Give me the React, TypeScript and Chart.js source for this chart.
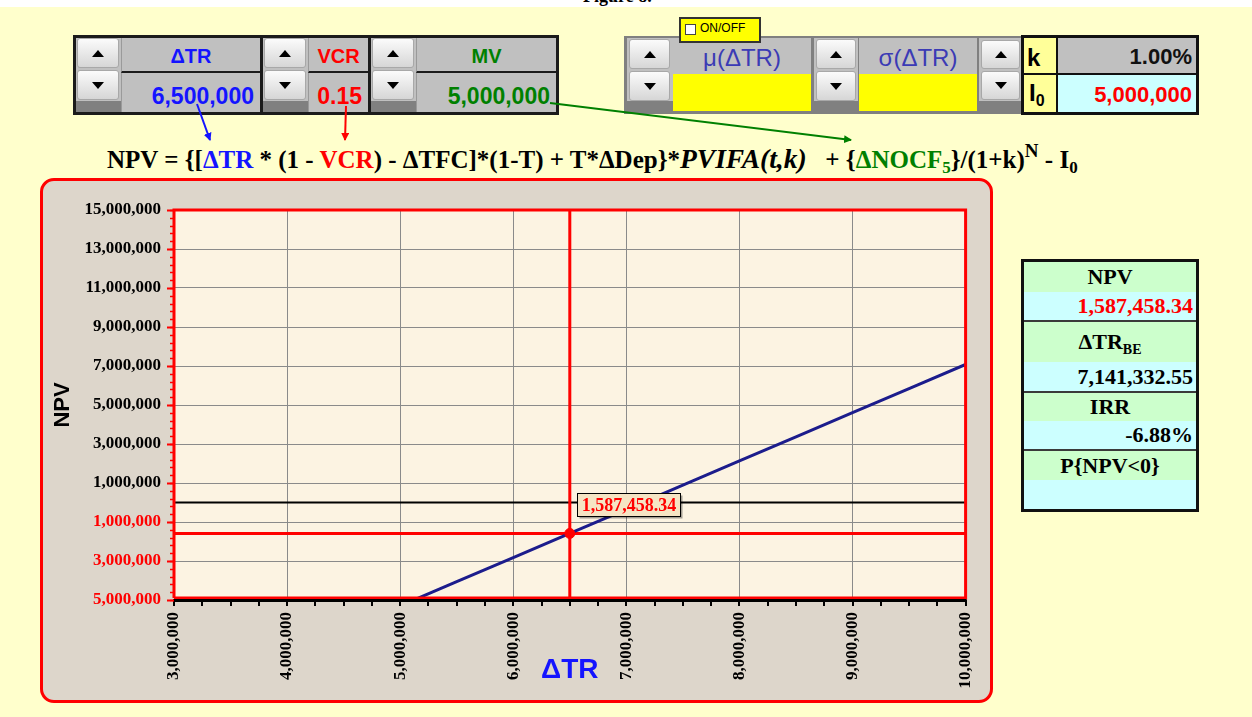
import React, { useEffect, useRef } from "react";
import { Chart, registerables } from "chart.js";

Chart.register(...registerables);

// ---------- data ----------
const deltaTR = [3000000, 3500000, 4000000, 4500000, 5000000, 5500000, 6000000, 6500000, 7000000, 7500000, 8000000, 8500000, 9000000, 9500000, 10000000];
const npvValues = [-10250000, -9010000, -7780000, -6540000, -5300000, -4060000, -2830000, -1587458.34, -350000, 890000, 2130000, 3370000, 4610000, 5840000, 7080000];

const currentTR = 6500000;
const currentNPV = -1587458.34;

const xMin = 3000000;
const xMax = 10000000;
const xStep = 1000000;
const xMinorStep = 250000;
const yMin = -5000000;
const yMax = 15000000;
const yStep = 2000000;
const yMinorStep = 400000;

const inputVCR = "0.15";
const inputMV = 5000000;
const inputK = "1.00%";
const inputI0 = 5000000;
const breakEvenTR = "7,141,332.55";
const irrText = "-6.88%";

// ---------- helpers ----------
function fmt(v: number, dec = 0): string {
  const s = Math.abs(v).toFixed(dec);
  const parts = s.split(".");
  const i = parts[0].replace(/\B(?=(\d{3})+(?!\d))/g, ",");
  return parts[1] ? i + "." + parts[1] : i;
}

const SERIF = "'Liberation Serif', 'Times New Roman', serif";
const SANS = "'Liberation Sans', Arial, sans-serif";

const decorPlugin = {
  id: "decor",
  beforeDraw(chart: any) {
    const { ctx, chartArea: a } = chart;
    ctx.save();
    ctx.fillStyle = "#FCF3E2";
    ctx.fillRect(a.left, a.top, a.right - a.left, a.bottom - a.top);
    ctx.restore();
  },
  afterDatasetsDraw(chart: any) {
    const { ctx, chartArea: a, scales } = chart;
    const xs = scales.x;
    const ys = scales.y;
    ctx.save();
    // red frame
    ctx.strokeStyle = "#FF0000";
    ctx.lineWidth = 3;
    ctx.beginPath();
    ctx.moveTo(a.left, a.bottom - 2);
    ctx.lineTo(a.left, a.top);
    ctx.lineTo(a.right, a.top);
    ctx.lineTo(a.right, a.bottom - 2);
    ctx.lineTo(a.left, a.bottom - 2);
    ctx.stroke();
    // black x axis line
    ctx.strokeStyle = "#000000";
    ctx.lineWidth = 3;
    ctx.beginPath();
    ctx.moveTo(a.left - 1, a.bottom + 0.5);
    ctx.lineTo(a.right + 1, a.bottom + 0.5);
    ctx.stroke();
    // x ticks (major + minor)
    ctx.lineWidth = 2;
    for (let v = xMin; v <= xMax + 1; v += xMinorStep) {
      const px = Math.round(xs.getPixelForValue(v));
      ctx.beginPath();
      ctx.moveTo(px, a.bottom);
      ctx.lineTo(px, a.bottom + 6);
      ctx.stroke();
    }
    // y minor ticks
    ctx.strokeStyle = "#FF0000";
    ctx.lineWidth = 1.5;
    for (let v = yMin; v <= yMax + 1; v += yMinorStep) {
      const py = Math.round(ys.getPixelForValue(v)) + 0.5;
      ctx.beginPath();
      ctx.moveTo(a.left - 4, py);
      ctx.lineTo(a.left, py);
      ctx.stroke();
    }
    // y major ticks
    ctx.lineWidth = 2;
    for (let v = yMin; v <= yMax + 1; v += yStep) {
      const py = Math.round(ys.getPixelForValue(v)) + 0.5;
      ctx.beginPath();
      ctx.moveTo(a.left - 7, py);
      ctx.lineTo(a.left, py);
      ctx.stroke();
    }
    // point label
    const px = xs.getPixelForValue(currentTR);
    const py = ys.getPixelForValue(currentNPV);
    const text = fmt(currentNPV, 2);
    ctx.font = `bold 18px ${SERIF}`;
    const tw = ctx.measureText(text).width;
    const bx = Math.round(px + 7) + 0.5;
    const by = Math.round(py - 40) + 0.5;
    const bw = Math.round(tw + 8);
    const bh = 23;
    ctx.fillStyle = "rgba(0,0,0,0.35)";
    ctx.fillRect(bx + 2, by + 2, bw, bh);
    ctx.fillStyle = "#F5E4C4";
    ctx.fillRect(bx, by, bw, bh);
    ctx.strokeStyle = "#000000";
    ctx.lineWidth = 1;
    ctx.strokeRect(bx, by, bw, bh);
    ctx.fillStyle = "#FF0000";
    ctx.textAlign = "center";
    ctx.textBaseline = "middle";
    ctx.fillText(text, bx + bw / 2, by + bh / 2 + 1);
    ctx.restore();
  },
};

function NPVChart() {
  const ref = useRef<HTMLCanvasElement | null>(null);
  useEffect(() => {
    if (!ref.current) return;
    const xMajor: number[] = [];
    for (let v = xMin; v <= xMax; v += xStep) xMajor.push(v);
    const chart = new Chart(ref.current, {
      type: "scatter",
      data: {
        datasets: [
          {
            label: "current",
            data: [{ x: currentTR, y: currentNPV }],
            pointRadius: 5,
            pointBackgroundColor: "#FF0000",
            pointBorderColor: "#FF0000",
            showLine: false,
          },
          {
            label: "NPV",
            data: deltaTR.map((x, i) => ({ x, y: npvValues[i] })),
            showLine: true,
            borderColor: "#1C1C8C",
            borderWidth: 3,
            pointRadius: 0,
            tension: 0,
          },
          {
            label: "ΔTR",
            data: [{ x: currentTR, y: yMin }, { x: currentTR, y: yMax }],
            showLine: true,
            borderColor: "#FF0000",
            borderWidth: 3,
            pointRadius: 0,
          },
          {
            label: "NPV level",
            data: [{ x: xMin, y: currentNPV }, { x: xMax, y: currentNPV }],
            showLine: true,
            borderColor: "#FF0000",
            borderWidth: 3,
            pointRadius: 0,
          },
          {
            label: "zero",
            data: [{ x: xMin, y: 0 }, { x: xMax, y: 0 }],
            showLine: true,
            borderColor: "#000000",
            borderWidth: 2,
            pointRadius: 0,
          },
        ],
      } as any,
      options: {
        animation: false,
        responsive: false,
        maintainAspectRatio: false,
        events: [],
        layout: { padding: { left: 0, right: 24, top: 29, bottom: 0 } },
        plugins: { legend: { display: false }, tooltip: { enabled: false } },
        scales: {
          x: {
            type: "linear",
            min: xMin,
            max: xMax,
            afterFit: (s: any) => {
              s.height = 100;
            },
            afterBuildTicks: (s: any) => {
              s.ticks = xMajor.map((v) => ({ value: v }));
            },
            ticks: {
              autoSkip: false,
              minRotation: 90,
              maxRotation: 90,
              padding: 4,
              color: "#000000",
              font: { family: SERIF, size: 17, weight: "bold" },
              callback: (v: any) => fmt(Number(v)),
            },
            grid: { color: "#8A8A8A", lineWidth: 1, drawTicks: true, tickLength: 8, tickColor: "rgba(0,0,0,0)" },
            border: { display: false },
            title: {
              display: true,
              text: "ΔTR",
              color: "#1414FF",
              font: { family: SANS, size: 28, weight: "bold" },
              padding: { top: 0, bottom: 13 },
            },
          },
          y: {
            type: "linear",
            min: yMin,
            max: yMax,
            afterFit: (s: any) => {
              s.width = 131;
            },
            ticks: {
              stepSize: yStep,
              padding: 6,
              color: (c: any) => (c.tick && c.tick.value < 0 ? "#FF0000" : "#000000"),
              font: { family: SERIF, size: 17, weight: "bold" },
              callback: (v: any) => fmt(Number(v)),
            },
            grid: { color: "#8A8A8A", lineWidth: 1, drawTicks: true, tickLength: 7, tickColor: "rgba(0,0,0,0)" },
            border: { display: false },
            title: {
              display: true,
              text: "NPV",
              color: "#000000",
              font: { family: SANS, size: 22, weight: "bold" },
              padding: { top: 7, bottom: 0 },
            },
          },
        },
      } as any,
      plugins: [decorPlugin],
    });
    return () => chart.destroy();
  }, []);
  return <canvas ref={ref} width={947} height={519} style={{ position: "absolute", left: 0, top: 0, width: 947, height: 519 }} />;
}

function SpinBtn({ left, top, w, h, up }: { left: number; top: number; w: number; h: number; up?: boolean }) {
  return (
    <div
      style={{
        position: "absolute",
        left,
        top,
        width: w,
        height: h,
        boxSizing: "border-box",
        border: "1px solid #A8A8A8",
        borderRadius: 3,
        background: "linear-gradient(#FBFBFB, #D6D6D6)",
        display: "flex",
        alignItems: "center",
        justifyContent: "center",
      }}
    >
      <div
        style={
          up
            ? { width: 0, height: 0, borderLeft: "6px solid transparent", borderRight: "6px solid transparent", borderBottom: "7px solid #000" }
            : { width: 0, height: 0, borderLeft: "6px solid transparent", borderRight: "6px solid transparent", borderTop: "7px solid #000" }
        }
      />
    </div>
  );
}

function Group({ left, width, label, value, color }: { left: number; width: number; label: string; value: string; color: string }) {
  const spinW = 45;
  return (
    <div style={{ position: "absolute", left, top: 35, width, height: 80, boxSizing: "border-box", border: "3px solid #1B1B1B", background: "#808080" }}>
      <div style={{ position: "absolute", left: 0, top: 0, width: spinW, height: 63, background: "#C0C0C0" }} />
      <SpinBtn left={1} top={0} w={spinW - 3} h={30} up />
      <SpinBtn left={1} top={32} w={spinW - 3} h={30} />
      <div
        style={{
          position: "absolute",
          left: spinW,
          top: 0,
          right: 0,
          height: 35,
          boxSizing: "border-box",
          background: "#C0C0C0",
          borderBottom: "2px solid #1B1B1B",
          borderLeft: "1px solid #9A9A9A",
          color,
          font: `bold 20px ${SANS}`,
          textAlign: "center",
          lineHeight: "37px",
        }}
      >
        {label}
      </div>
      <div
        style={{
          position: "absolute",
          left: spinW,
          top: 35,
          right: 0,
          bottom: 0,
          boxSizing: "border-box",
          background: "#C0C0C0",
          borderLeft: "1px solid #9A9A9A",
          color,
          font: `bold 23px ${SANS}`,
          textAlign: "right",
          paddingRight: 6,
          lineHeight: "47px",
          overflow: "hidden",
        }}
      >
        {value}
      </div>
    </div>
  );
}

function ResultRow({ top, h, bg, children, align, color, border }: any) {
  return (
    <div
      style={{
        position: "absolute",
        left: 0,
        right: 0,
        top,
        height: h,
        boxSizing: "border-box",
        background: bg,
        borderBottom: border ? "2px solid #3A3A3A" : "none",
        textAlign: align,
        paddingRight: align === "right" ? 3 : 0,
        font: `bold 22px ${SERIF}`,
        lineHeight: `${h - (border ? 2 : 0)}px`,
        color: color || "#000",
        whiteSpace: "nowrap",
      }}
    >
      {children}
    </div>
  );
}

export default function App() {
  const blue = "#1414FF";
  const red = "#FF0000";
  const green = "#008000";
  const subStyle = { fontSize: 17, verticalAlign: -5, lineHeight: 0 } as const;
  return (
    <div style={{ position: "fixed", left: 0, top: 0, width: 1252, height: 717, background: "#FFFFCC", overflow: "hidden", fontFamily: SANS }}>
      {/* top white strip with cut caption */}
      <div style={{ position: "absolute", left: 0, top: 0, width: 1252, height: 7, background: "#FFFFFF", overflow: "hidden" }}>
        <div style={{ position: "absolute", left: 583, top: -14, font: `bold 18px ${SERIF}`, color: "#000" }}>Figure 8.</div>
      </div>

      {/* left control panel */}
      <Group left={73} width={190} label="ΔTR" value={fmt(currentTR)} color={blue} />
      <Group left={260} width={111} label="VCR" value={inputVCR} color={red} />
      <Group left={368} width={191} label="MV" value={fmt(inputMV)} color={green} />

      {/* right control panel */}
      <div style={{ position: "absolute", left: 624, top: 36, width: 399, height: 78, background: "#808080" }}>
        <div style={{ position: "absolute", left: 3, top: 2, width: 46, height: 63, background: "#C0C0C0" }} />
        <SpinBtn left={5} top={3} w={41} h={30} up />
        <SpinBtn left={5} top={35} w={41} h={30} />
        <div style={{ position: "absolute", left: 49, top: 2, width: 138, height: 36, background: "#C0C0C0", color: "#3B3BB5", font: `24px ${SANS}`, textAlign: "center", lineHeight: "40px" }}>μ(ΔTR)</div>
        <div style={{ position: "absolute", left: 49, top: 38, width: 138, height: 37, background: "#FFFF00" }} />
        <div style={{ position: "absolute", left: 190, top: 2, width: 44, height: 63, background: "#C0C0C0" }} />
        <SpinBtn left={192} top={3} w={40} h={30} up />
        <SpinBtn left={192} top={35} w={40} h={30} />
        <div style={{ position: "absolute", left: 235, top: 2, width: 118, height: 36, background: "#C0C0C0", color: "#3B3BB5", font: `24px ${SANS}`, textAlign: "center", lineHeight: "40px" }}>σ(ΔTR)</div>
        <div style={{ position: "absolute", left: 235, top: 38, width: 118, height: 37, background: "#FFFF00" }} />
        <div style={{ position: "absolute", left: 355, top: 2, width: 43, height: 63, background: "#C0C0C0" }} />
        <SpinBtn left={357} top={4} w={39} h={29} up />
        <SpinBtn left={357} top={35} w={39} h={29} />
      </div>

      {/* ON/OFF checkbox */}
      <div style={{ position: "absolute", left: 679, top: 17, width: 82, height: 26, boxSizing: "border-box", background: "#FFFF00", border: "2px solid #333" }}>
        <div style={{ position: "absolute", left: 4, top: 5, width: 11, height: 11, boxSizing: "border-box", background: "#FFF", border: "1px solid #444" }} />
        <div style={{ position: "absolute", left: 19, top: 2, font: `12px ${SANS}`, color: "#000" }}>ON/OFF</div>
      </div>

      {/* k / I0 table */}
      <div style={{ position: "absolute", left: 1021, top: 35, width: 178, height: 80, boxSizing: "border-box", border: "3px solid #111", background: "#111" }}>
        <div style={{ position: "absolute", left: 0, top: 0, width: 32, height: 35, background: "#FFFF99", font: `bold 24px ${SANS}`, lineHeight: "40px", paddingLeft: 3, boxSizing: "border-box" }}>k</div>
        <div style={{ position: "absolute", left: 34, top: 0, right: 0, height: 35, background: "#C0C0C0", font: `bold 22px ${SANS}`, textAlign: "right", paddingRight: 4, boxSizing: "border-box", lineHeight: "38px", color: "#111" }}>{inputK}</div>
        <div style={{ position: "absolute", left: 0, top: 37, width: 32, bottom: 0, background: "#FFFF99", font: `bold 24px ${SANS}`, lineHeight: "36px", paddingLeft: 5, boxSizing: "border-box" }}>
          I<sub style={{ fontSize: 16, verticalAlign: -5, lineHeight: 0 }}>0</sub>
        </div>
        <div style={{ position: "absolute", left: 34, top: 37, right: 0, bottom: 0, background: "#CCFFFF", font: `bold 22px ${SANS}`, textAlign: "right", paddingRight: 4, boxSizing: "border-box", lineHeight: "40px", color: red }}>{fmt(inputI0)}</div>
      </div>

      {/* arrows */}
      <svg width={1252} height={717} style={{ position: "absolute", left: 0, top: 0, pointerEvents: "none" }}>
        <defs>
          <marker id="ab" markerWidth="8" markerHeight="8" refX="7" refY="4" orient="auto" markerUnits="userSpaceOnUse">
            <path d="M0,0 L8,4 L0,8 z" fill="#1414FF" />
          </marker>
          <marker id="ar" markerWidth="8" markerHeight="8" refX="7" refY="4" orient="auto" markerUnits="userSpaceOnUse">
            <path d="M0,0 L8,4 L0,8 z" fill="#FF0000" />
          </marker>
          <marker id="ag" markerWidth="8" markerHeight="8" refX="7" refY="4" orient="auto" markerUnits="userSpaceOnUse">
            <path d="M0,0 L8,4 L0,8 z" fill="#008000" />
          </marker>
        </defs>
        <line x1={197} y1={104} x2={210} y2={140} stroke="#1414FF" strokeWidth={2} markerEnd="url(#ab)" />
        <line x1={346} y1={106} x2={345} y2={140} stroke="#FF0000" strokeWidth={2} markerEnd="url(#ar)" />
        <line x1={550} y1={103} x2={851} y2={140} stroke="#008000" strokeWidth={2} markerEnd="url(#ag)" />
      </svg>

      {/* formula */}
      <div style={{ position: "absolute", left: 107, top: 144, font: `bold 25px ${SERIF}`, lineHeight: "30px", whiteSpace: "pre", color: "#000" }}>
        NPV = {"{"}[<span style={{ color: blue }}>ΔTR</span> * (1 - <span style={{ color: red }}>VCR</span>) - ΔTFC]*(1-T) + T*ΔDep{"}"}*<i style={{ fontSize: 27.5 }}>PVIFA(t,k)</i>   + {"{"}
        <span style={{ color: green }}>
          ΔNOCF<sub style={subStyle}>5</sub>
        </span>
        {"}"}/(1+k)<sup style={{ fontSize: 19, verticalAlign: 11, lineHeight: 0 }}>N</sup> - I<sub style={subStyle}>0</sub>
      </div>

      {/* chart container */}
      <div style={{ position: "absolute", left: 40, top: 178, width: 953, height: 525, boxSizing: "border-box", border: "3px solid #FF0000", borderRadius: 14, background: "#DDD6CB", overflow: "hidden" }}>
        <NPVChart />
      </div>

      {/* results table */}
      <div style={{ position: "absolute", left: 1021, top: 259, width: 178, height: 253, boxSizing: "border-box", border: "3px solid #111", background: "#CCFFFF" }}>
        <ResultRow top={0} h={30} bg="#CCFFCC" align="center">NPV</ResultRow>
        <ResultRow top={30} h={30} bg="#CCFFFF" align="right" color={red} border>{fmt(currentNPV, 2)}</ResultRow>
        <ResultRow top={60} h={40} bg="#CCFFCC" align="center">
          ΔTR<sub style={{ fontSize: 14, verticalAlign: -5, lineHeight: 0 }}>BE</sub>
        </ResultRow>
        <ResultRow top={100} h={31} bg="#CCFFFF" align="right" border>{breakEvenTR}</ResultRow>
        <ResultRow top={131} h={28} bg="#CCFFCC" align="center">IRR</ResultRow>
        <ResultRow top={159} h={30} bg="#CCFFFF" align="right" border>{irrText}</ResultRow>
        <ResultRow top={189} h={29} bg="#CCFFCC" align="center">P{"{"}NPV&lt;0{"}"}</ResultRow>
        <ResultRow top={218} h={29} bg="#CCFFFF" align="right">{""}</ResultRow>
      </div>
    </div>
  );
}
